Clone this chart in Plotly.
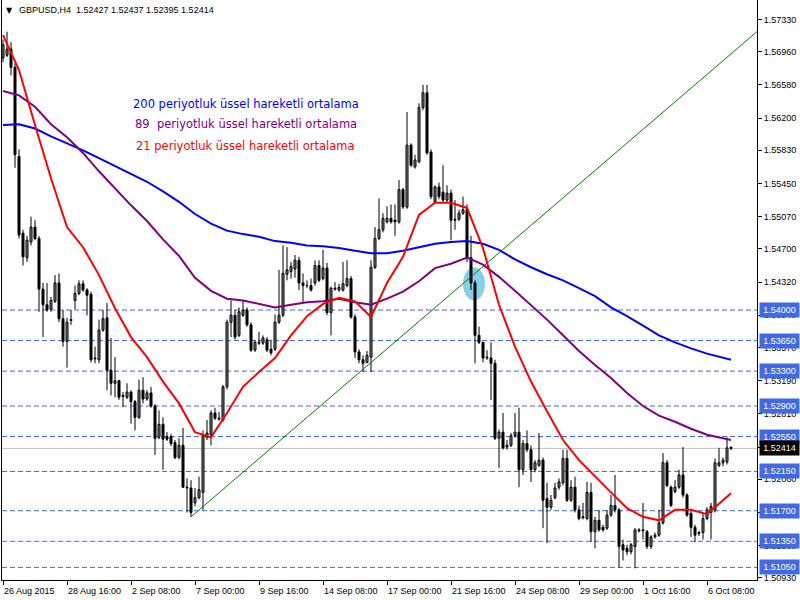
import plotly.graph_objects as go

# ---------------- data (GBPUSD H4, bar index 0 = 26 Aug 2015 00:00) ----------------
open_ = [1.5689, 1.5692, 1.5699, 1.5678, 1.5576, 1.5488, 1.5460, 1.5478, 1.5495, 1.5482,
         1.5424, 1.5406, 1.5401, 1.5410, 1.5431, 1.5390, 1.5364, 1.5389, 1.5411, 1.5419,
         1.5430, 1.5423, 1.5418, 1.5344, 1.5343, 1.5377, 1.5391, 1.5331, 1.5316, 1.5319,
         1.5301, 1.5300, 1.5306, 1.5295, 1.5277, 1.5308, 1.5298, 1.5305, 1.5290, 1.5254,
         1.5269, 1.5255, 1.5255, 1.5248, 1.5231, 1.5245, 1.5197, 1.5196, 1.5179, 1.5185,
         1.5191, 1.5254, 1.5257, 1.5282, 1.5276, 1.5274, 1.5312, 1.5386, 1.5394, 1.5371,
         1.5394, 1.5400, 1.5383, 1.5354, 1.5363, 1.5362, 1.5366, 1.5355, 1.5355, 1.5386,
         1.5394, 1.5441, 1.5444, 1.5447, 1.5457, 1.5431, 1.5428, 1.5428, 1.5431, 1.5451,
         1.5436, 1.5448, 1.5397, 1.5425, 1.5423, 1.5423, 1.5428, 1.5436, 1.5392, 1.5352,
         1.5343, 1.5340, 1.5346, 1.5449, 1.5482, 1.5492, 1.5501, 1.5505, 1.5503, 1.5501,
         1.5538, 1.5518, 1.5589, 1.5564, 1.5570, 1.5632, 1.5649, 1.5581, 1.5524, 1.5541,
         1.5535, 1.5526, 1.5534, 1.5504, 1.5504, 1.5511, 1.5515, 1.5460, 1.5431, 1.5371,
         1.5363, 1.5346, 1.5345, 1.5339, 1.5253, 1.5260, 1.5243, 1.5245, 1.5256, 1.5260,
         1.5217, 1.5247, 1.5240, 1.5217, 1.5222, 1.5228, 1.5184, 1.5174, 1.5185, 1.5197,
         1.5202, 1.5230, 1.5182, 1.5197, 1.5171, 1.5163, 1.5161, 1.5191, 1.5146, 1.5159,
         1.5151, 1.5150, 1.5165, 1.5176, 1.5171, 1.5131, 1.5127, 1.5123, 1.5129, 1.5147,
         1.5148, 1.5146, 1.5129, 1.5140, 1.5142, 1.5156, 1.5225, 1.5197, 1.5192, 1.5197,
         1.5211, 1.5188, 1.5167, 1.5151, 1.5145, 1.5145, 1.5161, 1.5168, 1.5171, 1.5222,
         1.5225, 1.5226, 1.52427]
high = [1.5710, 1.5719, 1.5707, 1.5683, 1.5584, 1.5492, 1.5485, 1.5507, 1.5503, 1.5485,
        1.5431, 1.5431, 1.5415, 1.5440, 1.5442, 1.5400, 1.5391, 1.5400, 1.5428, 1.5434,
        1.5434, 1.5425, 1.5421, 1.5358, 1.5389, 1.5400, 1.5408, 1.5368, 1.5346, 1.5320,
        1.5306, 1.5316, 1.5308, 1.5297, 1.5320, 1.5323, 1.5308, 1.5312, 1.5292, 1.5285,
        1.5277, 1.5260, 1.5258, 1.5251, 1.5253, 1.5265, 1.5207, 1.5205, 1.5196, 1.5209,
        1.5262, 1.5274, 1.5285, 1.5288, 1.5283, 1.5314, 1.5389, 1.5411, 1.5400, 1.5403,
        1.5411, 1.5403, 1.5386, 1.5366, 1.5375, 1.5371, 1.5369, 1.5366, 1.5395, 1.5446,
        1.5474, 1.5472, 1.5455, 1.5463, 1.5461, 1.5442, 1.5434, 1.5436, 1.5457, 1.5457,
        1.5469, 1.5454, 1.5427, 1.5432, 1.5430, 1.5455, 1.5457, 1.5439, 1.5395, 1.5355,
        1.5348, 1.5353, 1.5457, 1.5495, 1.5528, 1.5511, 1.5519, 1.5521, 1.5521, 1.5549,
        1.5540, 1.5627, 1.5591, 1.5578, 1.5637, 1.5658, 1.5658, 1.5584, 1.5543, 1.5546,
        1.5566, 1.5543, 1.5538, 1.5526, 1.5515, 1.5530, 1.5521, 1.5485, 1.5434, 1.5381,
        1.5363, 1.5354, 1.5363, 1.5343, 1.5263, 1.5282, 1.5251, 1.5259, 1.5282, 1.5288,
        1.5251, 1.5262, 1.5245, 1.5228, 1.5259, 1.5231, 1.5202, 1.5188, 1.5202, 1.5207,
        1.5240, 1.5240, 1.5205, 1.5209, 1.5176, 1.5179, 1.5203, 1.5202, 1.5163, 1.5171,
        1.5154, 1.5171, 1.5188, 1.5211, 1.5173, 1.5137, 1.5131, 1.5133, 1.5150, 1.5150,
        1.5179, 1.5148, 1.5142, 1.5145, 1.5171, 1.5236, 1.5228, 1.5199, 1.5205, 1.5217,
        1.5243, 1.5190, 1.5170, 1.5154, 1.5147, 1.5167, 1.5174, 1.5179, 1.5230, 1.5242,
        1.5231, 1.5254, 1.52437]
low = [1.5684, 1.5690, 1.5669, 1.5563, 1.5482, 1.5451, 1.5455, 1.5474, 1.5480, 1.5398,
       1.5369, 1.5398, 1.5398, 1.5408, 1.5386, 1.5358, 1.5334, 1.5383, 1.5401, 1.5417,
       1.5421, 1.5394, 1.5340, 1.5339, 1.5339, 1.5375, 1.5308, 1.5302, 1.5300, 1.5297,
       1.5289, 1.5298, 1.5270, 1.5262, 1.5275, 1.5293, 1.5296, 1.5288, 1.5234, 1.5252,
       1.5217, 1.5250, 1.5244, 1.5229, 1.5229, 1.5196, 1.5168, 1.5163, 1.5175, 1.5183,
       1.5171, 1.5251, 1.5245, 1.5274, 1.5273, 1.5272, 1.5309, 1.5369, 1.5366, 1.5369,
       1.5392, 1.5381, 1.5352, 1.5352, 1.5360, 1.5360, 1.5352, 1.5348, 1.5353, 1.5384,
       1.5392, 1.5434, 1.5436, 1.5437, 1.5423, 1.5408, 1.5425, 1.5421, 1.5428, 1.5432,
       1.5434, 1.5394, 1.5371, 1.5422, 1.5421, 1.5421, 1.5426, 1.5390, 1.5345, 1.5339,
       1.5329, 1.5339, 1.5329, 1.5447, 1.5480, 1.5489, 1.5499, 1.5499, 1.5485, 1.5499,
       1.5516, 1.5516, 1.5564, 1.5562, 1.5568, 1.5629, 1.5578, 1.5527, 1.5522, 1.5527,
       1.5524, 1.5523, 1.5480, 1.5492, 1.5502, 1.5509, 1.5455, 1.5423, 1.5339, 1.5361,
       1.5340, 1.5343, 1.5297, 1.5251, 1.5219, 1.5240, 1.5240, 1.5243, 1.5254, 1.5197,
       1.5211, 1.5237, 1.5203, 1.5214, 1.5220, 1.5150, 1.5133, 1.5171, 1.5183, 1.5194,
       1.5199, 1.5180, 1.5180, 1.5168, 1.5159, 1.5160, 1.5159, 1.5134, 1.5127, 1.5146,
       1.5146, 1.5148, 1.5163, 1.5168, 1.5105, 1.5113, 1.5119, 1.5120, 1.5104, 1.5145,
       1.5137, 1.5126, 1.5126, 1.5138, 1.5140, 1.5154, 1.5197, 1.5174, 1.5190, 1.5195,
       1.5185, 1.5163, 1.5140, 1.5134, 1.5141, 1.5137, 1.5159, 1.5137, 1.5168, 1.5220,
       1.5221, 1.5223, 1.52395]
close = [1.5704, 1.5699, 1.5678, 1.5578, 1.5486, 1.5461, 1.5480, 1.5495, 1.5482, 1.5424,
         1.5406, 1.5400, 1.5411, 1.5431, 1.5390, 1.5364, 1.5386, 1.5388, 1.5419, 1.5430,
         1.5423, 1.5417, 1.5343, 1.5345, 1.5377, 1.5390, 1.5331, 1.5316, 1.5319, 1.5300,
         1.5302, 1.5306, 1.5295, 1.5277, 1.5308, 1.5298, 1.5305, 1.5290, 1.5253, 1.5269,
         1.5252, 1.5252, 1.5247, 1.5231, 1.5245, 1.5197, 1.5196, 1.5168, 1.5185, 1.5194,
         1.5256, 1.5259, 1.5282, 1.5276, 1.5275, 1.5312, 1.5386, 1.5394, 1.5369, 1.5398,
         1.5400, 1.5383, 1.5354, 1.5363, 1.5362, 1.5368, 1.5354, 1.5351, 1.5386, 1.5394,
         1.5442, 1.5446, 1.5450, 1.5457, 1.5431, 1.5428, 1.5428, 1.5423, 1.5451, 1.5434,
         1.5448, 1.5397, 1.5425, 1.5424, 1.5426, 1.5430, 1.5436, 1.5392, 1.5352, 1.5343,
         1.5339, 1.5348, 1.5449, 1.5482, 1.5492, 1.5505, 1.5505, 1.5501, 1.5501, 1.5538,
         1.5518, 1.5589, 1.5566, 1.5572, 1.5632, 1.5649, 1.5580, 1.5530, 1.5541, 1.5530,
         1.5526, 1.5534, 1.5503, 1.5503, 1.5511, 1.5515, 1.5460, 1.5431, 1.5371, 1.5363,
         1.5345, 1.5345, 1.5339, 1.5253, 1.5260, 1.5242, 1.5245, 1.5256, 1.5260, 1.5217,
         1.5247, 1.5240, 1.5217, 1.5225, 1.5228, 1.5182, 1.5174, 1.5182, 1.5196, 1.5203,
         1.5230, 1.5182, 1.5197, 1.5171, 1.5161, 1.5162, 1.5191, 1.5146, 1.5159, 1.5148,
         1.5148, 1.5165, 1.5176, 1.5171, 1.5129, 1.5125, 1.5123, 1.5131, 1.5148, 1.5148,
         1.5147, 1.5129, 1.5140, 1.5142, 1.5156, 1.5225, 1.5199, 1.5176, 1.5197, 1.5211,
         1.5188, 1.5165, 1.5151, 1.5142, 1.5144, 1.5161, 1.5171, 1.5175, 1.5225, 1.5225,
         1.5228, 1.5242, 1.52414]

ema_bars = list(range(0, 181, 4)) + [182]
ema200 = [1.5612, 1.5613, 1.5608, 1.5599, 1.5591, 1.5583, 1.5574, 1.5565, 1.5556, 1.5547,
          1.5536, 1.5524, 1.5510, 1.5499, 1.5491, 1.5487, 1.5484, 1.5479, 1.5477, 1.5474,
          1.5473, 1.5471, 1.5468, 1.5465, 1.5465, 1.5468, 1.5472, 1.5476, 1.5478, 1.5479,
          1.5476, 1.5469, 1.5458, 1.5449, 1.5441, 1.5434, 1.5425, 1.5416, 1.5403, 1.5393,
          1.5382, 1.5371, 1.5363, 1.5356, 1.5350, 1.5345, 1.5343]
ema89 = [1.5651, 1.5646, 1.5633, 1.5613, 1.5598, 1.5580, 1.5559, 1.5539, 1.5520, 1.5502,
         1.5481, 1.5462, 1.5437, 1.5422, 1.5413, 1.5411, 1.5407, 1.5403, 1.5406, 1.5409,
         1.5410, 1.5413, 1.5409, 1.5406, 1.5413, 1.5421, 1.5433, 1.5448, 1.5453, 1.5460,
         1.5452, 1.5438, 1.5422, 1.5406, 1.5389, 1.5371, 1.5353, 1.5337, 1.5322, 1.5305,
         1.5290, 1.5279, 1.5272, 1.5264, 1.5257, 1.5253, 1.5251]
ema21 = [1.5715, 1.5675, 1.5612, 1.5551, 1.5495, 1.5472, 1.5440, 1.5402, 1.5369, 1.5346,
         1.5318, 1.5293, 1.5260, 1.5254, 1.5282, 1.5312, 1.5329, 1.5345, 1.5371, 1.5393,
         1.5407, 1.5414, 1.5410, 1.5392, 1.5431, 1.5461, 1.5509, 1.5523, 1.5523, 1.5517,
         1.5471, 1.5406, 1.5358, 1.5318, 1.5284, 1.5251, 1.5228, 1.5209, 1.5191, 1.5173,
         1.5163, 1.5159, 1.5171, 1.5171, 1.5166, 1.5182, 1.5190]

x_tick_bars = [0, 16, 32, 48, 64, 80, 96, 112, 128, 144, 160, 176]
x_tick_labels = ["26 Aug 2015", "28 Aug 16:00", "2 Sep 08:00", "7 Sep 00:00", "9 Sep 16:00",
                 "14 Sep 08:00", "17 Sep 00:00", "21 Sep 16:00", "24 Sep 08:00",
                 "29 Sep 00:00", "1 Oct 16:00", "6 Oct 08:00"]
y_tick_values = [1.57330, 1.56960, 1.56580, 1.56200, 1.55830, 1.55450, 1.55070, 1.54700,
                 1.54320, 1.53940, 1.53570, 1.53190, 1.52810, 1.52430, 1.52060, 1.51680,
                 1.51300, 1.50930]
level_lines = [1.54000, 1.53650, 1.53300, 1.52900, 1.52550, 1.52150, 1.51700, 1.51350, 1.51050]
bid_price = 1.52414
trend_bars = [47, 190]
trend_prices = [1.5163, 1.5725]
highlight_bars = [115, 120.5]
highlight_prices = [1.5411, 1.5449]

legend_texts = ["200 periyotluk üssel hareketli ortalama",
                "89\u00a0 periyotluk üssel hareketli ortalama",
                "21 periyotluk üssel hareketli ortalama"]
title_text = "GBPUSD,H4\u00a0 1.52427 1.52437 1.52395 1.52414"

# ---------------- figure ----------------
AX_FAMILY = "Liberation Sans, Arial, sans-serif"
AX_FONT = dict(family=AX_FAMILY, size=9, color="black")
n = len(close)
bars = list(range(n))

fig = go.Figure()

# wicks
wx, wy = [], []
for i in bars:
    wx += [i, i, None]
    wy += [low[i], high[i], None]
fig.add_trace(go.Scatter(x=wx, y=wy, mode="lines", line=dict(color="black", width=1),
                         hoverinfo="skip"))

MIN_H = 0.00002
for bull in (True, False):
    xs, hs, bs = [], [], []
    for i in bars:
        if (close[i] >= open_[i]) == bull:
            h = close[i] - open_[i]
            if abs(h) < MIN_H:
                h = MIN_H
            xs.append(i)
            hs.append(h)
            bs.append(open_[i])
    fig.add_trace(go.Bar(x=xs, y=hs, base=bs, width=0.5,
                         marker=dict(color="white" if bull else "black",
                                     line=dict(color="black", width=1)),
                         hoverinfo="skip"))

# trend line
fig.add_trace(go.Scatter(x=trend_bars, y=trend_prices, mode="lines",
                         line=dict(color="#008000", width=1), hoverinfo="skip"))

# moving averages
for vals, col in ((ema200, "#0000FF"), (ema89, "#800080"), (ema21, "#FF0000")):
    fig.add_trace(go.Scatter(x=ema_bars, y=vals, mode="lines",
                             line=dict(color=col, width=2), hoverinfo="skip"))

shapes = []
for lv in level_lines:
    shapes.append(dict(type="line", xref="paper", x0=0, x1=1, yref="y", y0=lv, y1=lv,
                       line=dict(color="#4169E1", width=1, dash="5px,3px"), layer="below"))
shapes.append(dict(type="line", xref="paper", x0=0, x1=1, yref="y", y0=bid_price, y1=bid_price,
                   line=dict(color="#C0C0C0", width=1), layer="below"))
shapes.append(dict(type="circle", xref="x", yref="y",
                   x0=highlight_bars[0], x1=highlight_bars[1],
                   y0=highlight_prices[0], y1=highlight_prices[1],
                   fillcolor="#87CEEB", line=dict(width=0), layer="below"))

PLOT_W, PLOT_H, L_M, T_M = 755, 580, 2, 0


def px_x(px):
    return (px - L_M) / PLOT_W


def px_y(py):
    return 1 - (py - T_M) / PLOT_H


annotations = []
for b, t in zip(x_tick_bars, x_tick_labels):
    annotations.append(dict(x=b, xref="x", y=px_y(591), yref="paper", text=t,
                            showarrow=False, xanchor="left", yanchor="middle", xshift=-1,
                            font=AX_FONT))
for lv in level_lines:
    annotations.append(dict(x=px_x(759), xref="paper", y=lv, yref="y", text=f"{lv:.5f}",
                            showarrow=False, xanchor="left", yanchor="middle",
                            bgcolor="#4169E1", width=37, height=12, borderpad=1,
                            font=dict(family=AX_FAMILY, size=9, color="white")))
annotations.append(dict(x=px_x(759), xref="paper", y=bid_price, yref="y", text=f"{bid_price:.5f}",
                        showarrow=False, xanchor="left", yanchor="middle",
                        bgcolor="black", width=37, height=12, borderpad=1,
                        font=dict(family=AX_FAMILY, size=9, color="white")))

LEG_FONT = "DejaVu Sans"
for (t, col, px, py) in zip(legend_texts, ["#0000FF", "#800080", "#FF0000"],
                            [131, 133, 134], [104, 124, 146]):
    annotations.append(dict(x=px_x(px), xref="paper", y=px_y(py), yref="paper", text=t,
                            showarrow=False, xanchor="left", yanchor="middle",
                            font=dict(family=LEG_FONT, size=11.5, color=col)))

annotations.append(dict(x=px_x(4), xref="paper", y=px_y(10), yref="paper", text="▼",
                        showarrow=False, xanchor="left", yanchor="middle",
                        font=dict(family="DejaVu Sans", size=8, color="black")))
annotations.append(dict(x=px_x(17), xref="paper", y=px_y(10), yref="paper", text=title_text,
                        showarrow=False, xanchor="left", yanchor="middle", font=AX_FONT))

fig.update_layout(
    width=800, height=600,
    margin=dict(l=L_M, r=800 - L_M - PLOT_W, t=T_M, b=600 - T_M - PLOT_H, autoexpand=False),
    paper_bgcolor="white", plot_bgcolor="white",
    showlegend=False, barmode="overlay", hovermode=False,
    shapes=shapes, annotations=annotations,
    xaxis=dict(range=[-0.25, 188.5], showgrid=False, zeroline=False, automargin=False,
               showline=True, linecolor="black", linewidth=1,
               ticks="outside", ticklen=4, tickcolor="black",
               tickvals=x_tick_bars, showticklabels=False, fixedrange=True),
    yaxis=dict(side="right", range=[1.50906, 1.57553], showgrid=False, zeroline=False,
               automargin=False,
               showline=True, mirror=True, linecolor="black", linewidth=1,
               ticks="outside", ticklen=4, tickcolor="black",
               tickvals=y_tick_values, ticktext=[f"{v:.5f}" for v in y_tick_values],
               tickfont=AX_FONT, fixedrange=True),
)

fig.write_html("out.html", config={"displayModeBar": False},
               post_script="document.body.style.margin='0';document.body.style.overflow='hidden';")
